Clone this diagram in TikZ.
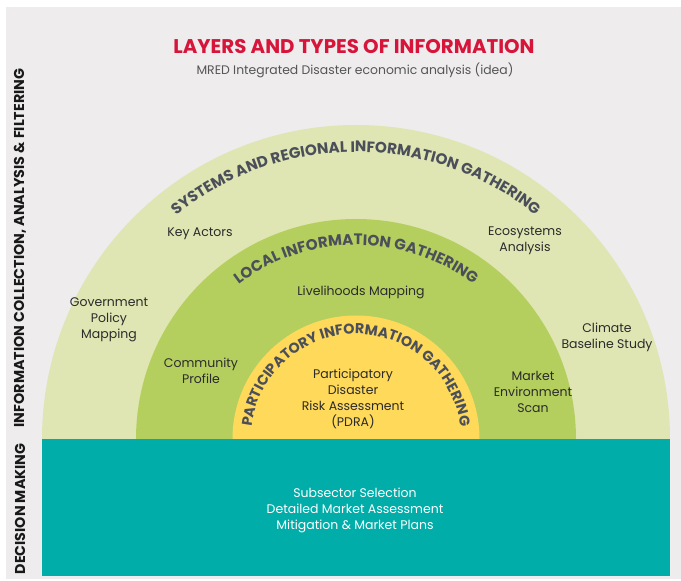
\documentclass[tikz,border=0pt]{standalone}
\usepackage{fontspec}
\setmainfont{Poppins}
\usetikzlibrary{decorations.text}
\definecolor{bggray}{HTML}{EEECED}
\definecolor{outergreen}{HTML}{DFE6B3}
\definecolor{midgreen}{HTML}{B5CF5F}
\definecolor{inneryellow}{HTML}{FFD95A}
\definecolor{tealband}{HTML}{00ADA9}
\definecolor{titlered}{HTML}{D7143A}
\definecolor{arcgray}{HTML}{4B4F5A}
\definecolor{bodytext}{HTML}{2B2B2B}
\definecolor{subgray}{HTML}{555555}
\newcommand{\arcfnt}[1]{\color{arcgray}\bfseries\fontsize{#1}{16}\selectfont}
\tikzset{
  bodylabel/.style={align=center, text=bodytext, inner sep=0pt, font=\fontsize{12.5}{16}\selectfont},
  sidelabel/.style={rotate=90, text=black!90, inner sep=0pt, font=\bfseries\fontsize{14.3}{16}\selectfont},
}
\begin{document}
\begin{tikzpicture}[x=1pt,y=1pt]
\useasboundingbox (0,0) rectangle (681,581);
\fill[white] (0,0) rectangle (681,581);
\fill[bggray] (6,2) rectangle (681,574);
\fill[tealband] (42,5) rectangle (670,142);
\coordinate (c) at (356,142);
\fill[outergreen] (c) ++(180:314) arc[start angle=180,end angle=0,radius=314] -- cycle;
\fill[midgreen] (c) ++(180:220) arc[start angle=180,end angle=0,radius=220] -- cycle;
\fill[inneryellow] (c) ++(180:123.5) arc[start angle=180,end angle=0,radius=123.5] -- cycle;

\path[decorate, decoration={text along path, text align=center,
  text={|\arcfnt{15.2}|SYSTEMS AND REGIONAL INFORMATION GATHERING}}]
  (c) ++(180:287) arc[start angle=180,end angle=0,radius=287];
\path[decorate, decoration={text along path, text align=center,
  text={|\arcfnt{15.2}|LOCAL INFORMATION GATHERING}}]
  (c) ++(180:194) arc[start angle=180,end angle=0,radius=194];
\path[decorate, decoration={text along path, text align=center,
  text={|\arcfnt{14.3}|PARTICIPATORY INFORMATION GATHERING}}]
  (c) ++(180:105) arc[start angle=180,end angle=0,radius=105];

\node[text=titlered, font=\bfseries\fontsize{19.8}{22}\selectfont] (title) at (354,534.5) {LAYERS AND TYPES OF INFORMATION};
\node[text=subgray, font=\fontsize{12.4}{14}\selectfont] (subtitle) at (355,511) {MRED Integrated Disaster economic analysis (idea)};

\node[sidelabel] (infolbl) at (20,333) {INFORMATION COLLECTION, ANALYSIS \& FILTERING};
\node[sidelabel] (declbl) at (20,72) {DECISION MAKING};

\node[bodylabel] (keyactors) at (200,347) {Key Actors};
\node[bodylabel] (ecosys) at (525,340) {Ecosystems\\Analysis};
\node[bodylabel] (govt) at (109,261) {Government\\Policy\\Mapping};
\node[bodylabel] (climate) at (607,244) {Climate\\Baseline Study};
\node[bodylabel] (liveli) at (361,289) {Livelihoods Mapping};
\node[bodylabel] (community) at (201,210) {Community\\Profile};
\node[bodylabel] (market) at (533,189) {Market\\Environment\\Scan};
\node[bodylabel] (pdra) at (353,182) {Participatory\\Disaster\\Risk Assessment\\(PDRA)};
\node[bodylabel, text=white] (decision) at (355,71) {Subsector Selection\\Detailed Market Assessment\\Mitigation \& Market Plans};
\end{tikzpicture}
\end{document}
